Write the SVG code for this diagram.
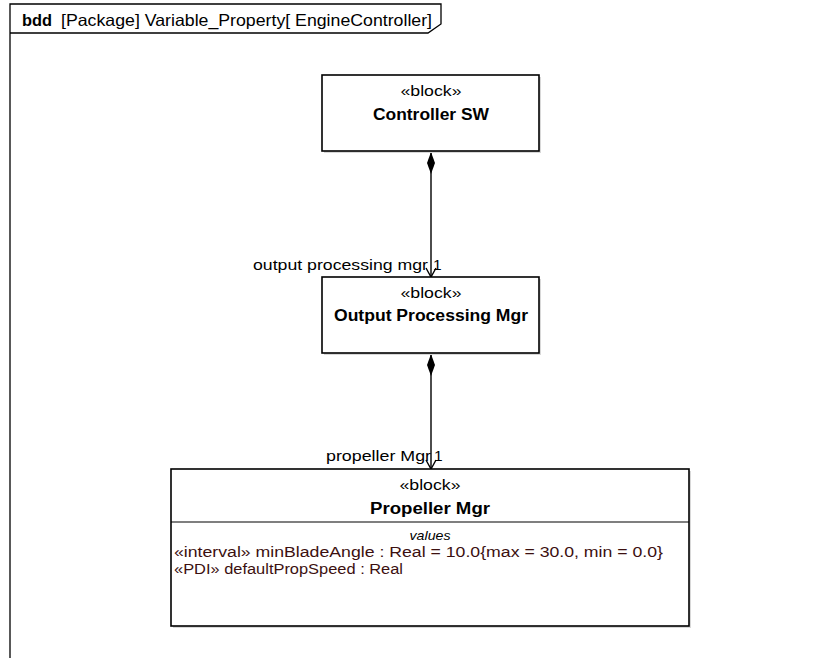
<svg xmlns="http://www.w3.org/2000/svg" width="827" height="658" viewBox="0 0 827 658">
  <style>
    text { font-family: "Liberation Sans", Arial, sans-serif; fill: #000; }
    .frame { fill: none; stroke: #000; stroke-width: 1.3; }
    .box { fill: #fff; stroke: #000; stroke-width: 1.6; }
    .shadow { fill: #d8d8d8; }
    .stereo { font-size: 15px; text-anchor: middle; }
    .name { font-size: 16px; font-weight: bold; text-anchor: middle; }
    .role { font-size: 15.5px; }
    .comp { font-size: 13px; font-style: italic; text-anchor: middle; }
    .attr { font-size: 15.5px; fill: #3c1010; }
    .conn { fill: none; stroke: #000; stroke-width: 1.4; }
  </style>

  <rect width="827" height="658" fill="#fff"/>

  <!-- diagram frame with name tab -->
  <g id="frame">
    <path class="frame" d="M10,658 L10,4 L441,4 L441,24 L428,33 L10,33"/>
    <text x="22" y="26" style="font-size:16.5px;font-weight:bold" textLength="30" lengthAdjust="spacingAndGlyphs">bdd</text>
    <text x="61" y="26" style="font-size:16.5px" textLength="371" lengthAdjust="spacingAndGlyphs">[Package] Variable_Property[ EngineController]</text>
  </g>

  <!-- composition associations -->
  <g id="connectors">
    <line class="conn" x1="431" y1="152" x2="431" y2="276"/>
    <path d="M431,152 L435,163 L431,174 L427,163 Z" fill="#000"/>
    <path class="conn" d="M426,268 L431,277 L436,268"/>
    <text class="role" x="253" y="270" textLength="175" lengthAdjust="spacingAndGlyphs">output processing mgr</text>
    <text class="role" x="433" y="270">1</text>

    <line class="conn" x1="431" y1="354" x2="431" y2="468"/>
    <path d="M431,354 L435,365 L431,376 L427,365 Z" fill="#000"/>
    <path class="conn" d="M426,460 L431,469 L436,460"/>
    <text class="role" x="326" y="461" textLength="105" lengthAdjust="spacingAndGlyphs">propeller Mgr</text>
    <text class="role" x="434" y="461">1</text>
  </g>

  <g id="controller-sw">
    <rect class="shadow" x="324" y="77" width="217" height="76"/>
    <rect class="box" x="322" y="75" width="217" height="76"/>
    <text class="stereo" x="431" y="96" textLength="61" lengthAdjust="spacingAndGlyphs">«block»</text>
    <text class="name" x="431" y="120" textLength="116" lengthAdjust="spacingAndGlyphs">Controller SW</text>
  </g>

  <g id="output-processing-mgr">
    <rect class="shadow" x="324" y="279" width="217" height="76"/>
    <rect class="box" x="322" y="277" width="217" height="76"/>
    <text class="stereo" x="431" y="298" textLength="61" lengthAdjust="spacingAndGlyphs">«block»</text>
    <text class="name" x="431" y="321" textLength="194" lengthAdjust="spacingAndGlyphs">Output Processing Mgr</text>
  </g>

  <g id="propeller-mgr">
    <rect class="shadow" x="173" y="471" width="518" height="157"/>
    <rect class="box" x="171" y="469" width="518" height="157"/>
    <line class="conn" x1="171" y1="522" x2="689" y2="522" style="stroke-width:1.2"/>
    <text class="stereo" x="430" y="490" textLength="61" lengthAdjust="spacingAndGlyphs">«block»</text>
    <text class="name" x="430" y="514" textLength="120" lengthAdjust="spacingAndGlyphs">Propeller Mgr</text>
    <text class="comp" x="430" y="540" textLength="41" lengthAdjust="spacingAndGlyphs">values</text>
    <text class="attr" x="174" y="557" textLength="489" lengthAdjust="spacingAndGlyphs">«interval» minBladeAngle : Real = 10.0{max = 30.0, min = 0.0}</text>
    <text class="attr" x="174" y="574" textLength="229" lengthAdjust="spacingAndGlyphs">«PDI» defaultPropSpeed : Real</text>
  </g>
</svg>
